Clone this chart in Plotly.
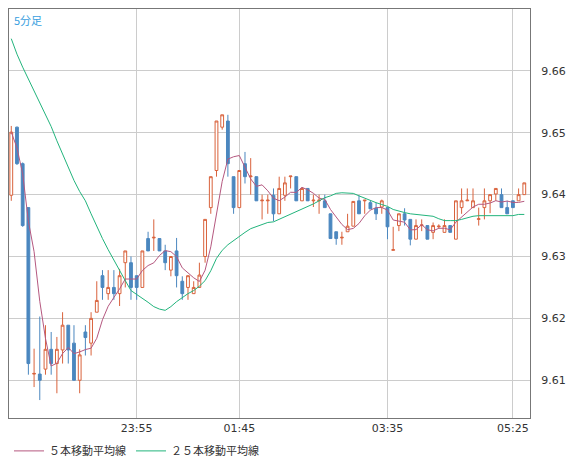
import plotly.graph_objects as go
import pandas as pd

opens = [9.6399,9.6509,9.6450,9.6379,9.6110,9.6110,9.6118,9.6150,9.6127,9.6149,9.6189,9.6160,9.6100,9.6178,9.6160,9.6210,9.6269,9.6240,9.6250,9.6240,
         9.6290,9.6290,9.6269,9.6250,9.6329,9.6330,9.6329,9.6309,9.6278,9.6309,9.6260,9.6250,9.6240,9.6250,9.6300,9.6379,9.6439,9.6509,9.6519,9.6429,
         9.6379,9.6450,9.6429,9.6429,9.6390,9.6390,9.6399,9.6369,9.6399,9.6429,9.6429,9.6390,9.6410,9.6390,9.6390,9.6390,9.6369,9.6340,9.6330,9.6340,
         9.6349,9.6390,9.6390,9.6387,9.6378,9.6380,9.6379,9.6310,9.6350,9.6369,9.6360,9.6328,9.6350,9.6350,9.6339,9.6348,9.6339,9.6350,9.6328,9.6379,
         9.6390,9.6379,9.6360,9.6379,9.6390,9.6401,9.6400,9.6379,9.6390,9.6390,9.6400]
highs = [9.6511,9.6510,9.6452,9.6379,9.6151,9.6203,9.6189,9.6178,9.6170,9.6210,9.6189,9.6189,9.6150,9.6189,9.6210,9.6260,9.6278,9.6278,9.6278,9.6280,
         9.6309,9.6300,9.6269,9.6309,9.6340,9.6360,9.6329,9.6319,9.6300,9.6330,9.6268,9.6269,9.6260,9.6290,9.6360,9.6429,9.6519,9.6529,9.6529,9.6429,
         9.6439,9.6469,9.6459,9.6429,9.6400,9.6400,9.6410,9.6429,9.6429,9.6430,9.6429,9.6412,9.6410,9.6400,9.6400,9.6400,9.6369,9.6340,9.6340,9.6369,
         9.6389,9.6399,9.6390,9.6390,9.6387,9.6392,9.6379,9.6348,9.6369,9.6378,9.6360,9.6360,9.6360,9.6350,9.6355,9.6352,9.6360,9.6350,9.6390,9.6410,
         9.6410,9.6410,9.6379,9.6410,9.6400,9.6410,9.6410,9.6390,9.6390,9.6410,9.6419]
lows = [9.6390,9.6448,9.6348,9.6109,9.6089,9.6068,9.6109,9.6109,9.6079,9.6127,9.6127,9.6100,9.6079,9.6140,9.6140,9.6210,9.6230,9.6230,9.6230,9.6220,
        9.6250,9.6230,9.6230,9.6250,9.6309,9.6309,9.6309,9.6278,9.6268,9.6250,9.6230,9.6230,9.6240,9.6250,9.6290,9.6369,9.6429,9.6505,9.6429,9.6369,
        9.6379,9.6418,9.6400,9.6390,9.6360,9.6369,9.6357,9.6369,9.6390,9.6410,9.6390,9.6390,9.6390,9.6380,9.6369,9.6379,9.6329,9.6319,9.6319,9.6340,
        9.6349,9.6369,9.6369,9.6377,9.6359,9.6369,9.6328,9.6310,9.6341,9.6350,9.6318,9.6328,9.6341,9.6328,9.6328,9.6345,9.6339,9.6339,9.6328,9.6369,
        9.6390,9.6379,9.6350,9.6360,9.6370,9.6390,9.6379,9.6369,9.6379,9.6390,9.6400]
closes = [9.6501,9.6450,9.6350,9.6127,9.6111,9.6100,9.6150,9.6127,9.6150,9.6189,9.6149,9.6100,9.6141,9.6169,9.6200,9.6229,9.6250,9.6250,9.6240,9.6269,
          9.6309,9.6250,9.6250,9.6309,9.6309,9.6331,9.6309,9.6290,9.6300,9.6269,9.6240,9.6269,9.6250,9.6270,9.6360,9.6429,9.6519,9.6529,9.6450,9.6379,
          9.6439,9.6429,9.6430,9.6390,9.6391,9.6391,9.6369,9.6410,9.6419,9.6430,9.6390,9.6410,9.6390,9.6391,9.6391,9.6379,9.6329,9.6329,9.6331,9.6349,
          9.6389,9.6369,9.6391,9.6377,9.6369,9.6390,9.6348,9.6311,9.6369,9.6359,9.6328,9.6350,9.6351,9.6328,9.6350,9.6349,9.6350,9.6339,9.6390,9.6390,
          9.6391,9.6390,9.6361,9.6390,9.6400,9.6410,9.6379,9.6369,9.6379,9.6400,9.6419]
ma25 = [9.6652,9.6627,9.6606,9.6587,9.6568,9.6550,9.6531,9.6510,9.6487,9.6465,9.6442,9.6423,9.6405,9.6390,9.6369,9.6348,9.6329,9.6311,9.6294,9.6276,
        9.6261,9.6245,9.6239,9.6232,9.6226,9.6219,9.6215,9.6213,9.6219,9.6227,9.6234,9.6240,9.6245,9.6252,9.6261,9.6277,9.6297,9.6310,9.6319,9.6326,
        9.6332,9.6339,9.6345,9.6348,9.6352,9.6355,9.6356,9.6360,9.6365,9.6369,9.6373,9.6376,9.6381,9.6385,9.6390,9.6395,9.6398,9.6402,9.6403,9.6403,
        9.6402,9.6398,9.6394,9.6390,9.6387,9.6384,9.6381,9.6376,9.6373,9.6371,9.6369,9.6368,9.6366,9.6366,9.6365,9.6361,9.6358,9.6358,9.6358,9.6360,
        9.6363,9.6365,9.6366,9.6366,9.6366,9.6366,9.6366,9.6366,9.6366,9.6368,9.6368]
tick_idx = [22, 40, 66, 88]
tick_labels = ["23:55", "01:45", "03:35", "05:25"]
y_ticks = [9.61, 9.62, 9.63, 9.64, 9.65, 9.66]

idx = list(range(len(closes)))
ma5 = pd.Series(closes).rolling(5, min_periods=1).mean().tolist()

fig = go.Figure()
fig.add_trace(go.Candlestick(
    x=idx, open=opens, high=highs, low=lows, close=closes,
    increasing=dict(line=dict(color="#d9623c", width=1), fillcolor="#ffffff"),
    decreasing=dict(line=dict(color="#4b87bf", width=1), fillcolor="#4b87bf"),
    whiskerwidth=0, showlegend=False, hoverinfo="skip"))
fig.add_trace(go.Scatter(x=idx, y=ma5, mode="lines", name="５本移動平均線",
                         line=dict(color="#b5587f", width=1)))
fig.add_trace(go.Scatter(x=idx, y=ma25, mode="lines", name="２５本移動平均線",
                         line=dict(color="#22b47c", width=1)))

axis_common = dict(showline=True, linecolor="#777777", linewidth=1, mirror=True,
                   gridcolor="#cccccc", gridwidth=1, zeroline=False, ticks="",
                   tickfont=dict(family="DejaVu Sans", size=11, color="#333333"))
fig.update_xaxes(range=[-0.4, 91.0], tickmode="array", tickvals=tick_idx, ticktext=tick_labels,
                 rangeslider_visible=False, **axis_common)
fig.update_yaxes(range=[9.6039, 9.6700], side="right", tickmode="array", tickvals=y_ticks,
                 ticktext=[f"{v:.2f}" for v in y_ticks], ticklabelstandoff=8, **axis_common)
fig.update_layout(
    width=574, height=462, margin=dict(l=1, r=52, t=1, b=52),
    paper_bgcolor="#ffffff", plot_bgcolor="#ffffff",
    legend=dict(orientation="h", x=0.0, y=-0.045, yanchor="top", xanchor="left",
                font=dict(family="Noto Sans CJK JP", size=11, color="#333333"),
                itemwidth=30, tracegroupgap=0),
    annotations=[dict(text="5分足", x=0.005, y=0.998, xref="paper", yref="paper",
                      xanchor="left", yanchor="top", showarrow=False,
                      font=dict(family="Noto Sans CJK JP", size=11, color="#3a9fe0"))])
fig.write_html("out.html")
